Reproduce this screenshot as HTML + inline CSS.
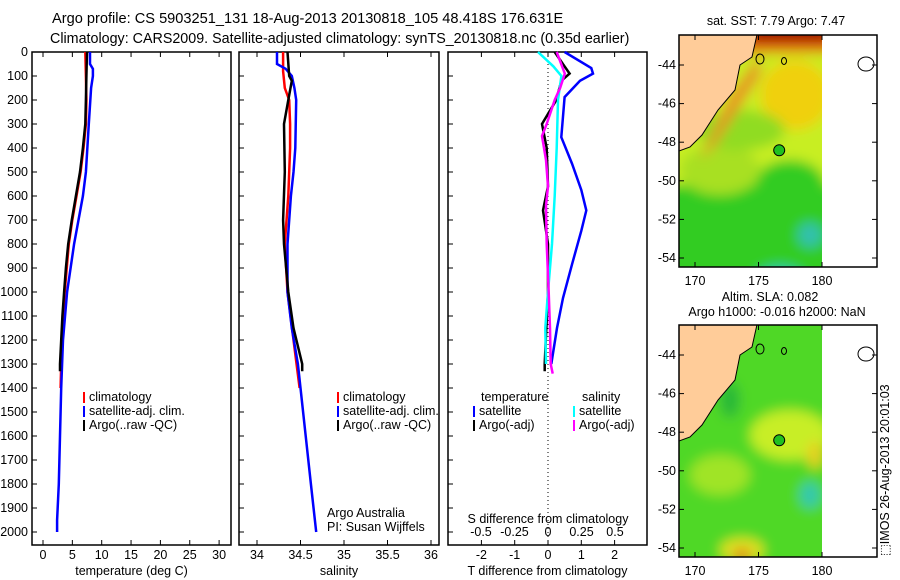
<!DOCTYPE html>
<html><head><meta charset="utf-8"><style>
body{margin:0;background:#fff;}
svg{display:block;font-family:"Liberation Sans",sans-serif;font-size:12.5px;}
</style></head><body>
<svg id="chart" width="900" height="580" viewBox="0 0 900 580">
<defs>
<filter id="blur" x="-20%" y="-20%" width="140%" height="140%"><feGaussianBlur stdDeviation="6"/></filter>
<clipPath id="c1"><rect x="679" y="35" width="143" height="232"/></clipPath>
<clipPath id="c2"><rect x="679" y="325" width="143" height="232"/></clipPath>
</defs>
<text x="52" y="23" font-size="14.6">Argo profile: CS 5903251_131 18-Aug-2013 20130818_105 48.418S 176.631E</text>
<text x="50" y="43" font-size="14.3">Climatology: CARS2009. Satellite-adjusted climatology: synTS_20130818.nc (0.35d earlier)</text>
<g id="plots"></g>
<g id="maps"></g>
<text transform="translate(889,556) rotate(-90)" font-size="12.5">⬚IMOS 26-Aug-2013 20:01:03</text>
</svg>
<script>
// ---- data ----
const tempDepthArgo=[0,100,200,300,400,500,600,700,800,900,1000,1100,1200,1300,1330];
const tempArgo=[7.5,7.4,7.3,7.2,6.8,6.3,5.6,4.9,4.3,3.9,3.6,3.3,3.1,2.9,2.9];
const tempDepthClim=[0,100,200,300,400,500,600,700,800,1000,1200,1400];
const tempClim=[7.2,7.3,7.4,7.3,6.9,6.4,5.7,5.0,4.4,3.7,3.2,3.0];
const tempDepthSat=[0,50,70,100,150,300,500,600,800,1000,1200,1400,1600,1800,1950,2000];
const tempSat=[8.0,8.0,8.5,8.5,8.2,7.8,7.3,6.8,5.3,4.1,3.4,3.1,2.9,2.7,2.4,2.4];
const salDepthArgo=[0,100,120,200,300,500,700,800,1000,1150,1300,1330];
const salArgo=[34.35,34.37,34.40,34.36,34.31,34.32,34.30,34.31,34.36,34.42,34.52,34.52];
const salDepthClim=[0,80,150,200,300,400,600,800,1000,1200,1400];
const salClim=[34.30,34.30,34.32,34.37,34.38,34.38,34.36,34.32,34.35,34.42,34.49];
const salDepthSat=[0,50,70,100,150,200,400,500,600,800,1000,1150,1300,1400,1600,1800,2000];
const salSat=[34.23,34.23,34.33,34.40,34.43,34.45,34.44,34.42,34.39,34.35,34.35,34.40,34.47,34.50,34.56,34.62,34.68];
const dDepthT=[0,67,90,120,188,355,465,575,660,745,885,1025,1150,1300];
const dTsat=[0.5,1.3,1.35,0.96,0.5,0.4,0.72,1.0,1.15,1.0,0.72,0.45,0.27,0.1];
const dDepthTA=[0,60,90,120,200,300,400,560,660,800,1000,1300,1330];
const dTargo=[0.2,0.5,0.65,0.4,0.25,-0.18,-0.04,0.0,-0.15,0.0,0.0,-0.1,-0.1];
const dDepthS=[0,60,100,200,400,600,800,1000,1150,1300];
const dSsat=[-0.075,0.04,0.1,0.075,0.065,0.05,0.03,0.0,-0.02,-0.015];
const dDepthSA=[0,90,150,200,300,350,450,560,640,800,1000,1150,1300,1340];
const dSargo=[0.065,0.125,0.09,0.05,-0.01,-0.045,-0.015,0.0,-0.015,-0.01,0.005,0.015,0.02,0.035];
const depthTicks=[0,100,200,300,400,500,600,700,800,900,1000,1100,1200,1300,1400,1500,1600,1700,1800,1900,2000];
const tempTicks=[0,5,10,15,20,25,30];
const salTicks=[34,34.5,35,35.5,36];
const dtTicks=[-2,-1,0,1,2];
const dsTicks=[-0.5,-0.25,0,0.25,0.5];
const lonTicks=[170,175,180];
const latTicks=[-44,-46,-48,-50,-52,-54];

const NS='http://www.w3.org/2000/svg';
function mk(p,tag,at,txt){const e=document.createElementNS(NS,tag);for(const k in at)e.setAttribute(k,at[k]);if(txt!==undefined)e.textContent=txt;p.appendChild(e);return e;}
const Y=d=>52+d*0.24;
const pTop=52,pBot=545;
const plots=document.getElementById('plots');
const panels=[
 {l:32,r:231,x:v=>43+v*5.87,ticks:tempTicks,title:'temperature (deg C)',name:'temperature-panel'},
 {l:239,r:439,x:v=>257+(v-34)*87,ticks:salTicks,title:'salinity',name:'salinity-panel'},
 {l:448,r:647,x:v=>548+v*33.3,ticks:dtTicks,title:'T difference from climatology',name:'difference-panel'}];
panels.forEach((p,i)=>{
 const g=mk(plots,'g',{});
 
 
 mk(g,'rect',{x:p.l,y:pTop,width:p.r-p.l,height:pBot-pTop,fill:'none',stroke:'#000','stroke-width':1.5});
 depthTicks.forEach(d=>{mk(g,'line',{x1:p.l,x2:p.l+5,y1:Y(d),y2:Y(d),stroke:'#000'});
  if(i==0){const t=mk(g,'text',{x:28,y:Y(d)+4,'text-anchor':'end'},String(d));}});
 p.ticks.forEach(v=>{const x=p.x(v);mk(g,'line',{x1:x,x2:x,y1:pTop,y2:pTop+5,stroke:'#000'});mk(g,'line',{x1:x,x2:x,y1:pBot,y2:pBot-5,stroke:'#000'});
  const t=mk(g,'text',{x:x,y:559,'text-anchor':'middle'},String(v));});
 const tt=mk(g,'text',{x:(p.l+p.r)/2,y:575,'text-anchor':'middle'},p.title);
 
});
function line(xf,ds,vs,col,name){const pts=ds.map((d,i)=>xf(vs[i]).toFixed(1)+','+Y(d).toFixed(1)).join(' ');
 const e=mk(plots,'polyline',{points:pts,fill:'none',stroke:col,'stroke-width':2.5});
 }
const P=panels;
line(P[0].x,tempDepthClim,tempClim,'#f00','temp-climatology-line');
line(P[0].x,tempDepthSat,tempSat,'#00f','temp-satellite-line');
line(P[0].x,tempDepthArgo,tempArgo,'#000','temp-argo-line');
line(P[1].x,salDepthClim,salClim,'#f00','sal-climatology-line');
line(P[1].x,salDepthSat,salSat,'#00f','sal-satellite-line');
line(P[1].x,salDepthArgo,salArgo,'#000','sal-argo-line');
const sx=v=>548+v*134;
mk(plots,'line',{x1:548,x2:548,y1:pTop,y2:pBot,stroke:'#000','stroke-dasharray':'1,3'});
line(P[2].x,dDepthT,dTsat,'#00f','dT-satellite-line');
line(P[2].x,dDepthTA,dTargo,'#000','dT-argo-line');
line(sx,dDepthS,dSsat,'#0ff','dS-satellite-line');
line(sx,dDepthSA,dSargo,'#f0f','dS-argo-line');
dsTicks.forEach(v=>{const t=mk(plots,'text',{x:sx(v),y:536,'text-anchor':'middle'},String(v));});
const st=mk(plots,'text',{x:548,y:523,'text-anchor':'middle'},'S difference from climatology');

function leg(x,y,col,txt){const g=mk(plots,'g',{});
 mk(g,'rect',{x:x,y:y-9,width:2,height:11,fill:col});mk(g,'text',{x:x+6,y:y},txt);}
[['#f00','climatology'],['#00f','satellite-adj. clim.'],['#000','Argo(..raw -QC)']].forEach((e,i)=>{leg(83,401+i*14,e[0],e[1]);leg(337,401+i*14,e[0],e[1]);});
mk(plots,'text',{x:481,y:401},'temperature');mk(plots,'text',{x:582,y:401},'salinity');
leg(473,415,'#00f','satellite');leg(473,429,'#000','Argo(-adj)');
leg(573,415,'#0ff','satellite');leg(573,429,'#f0f','Argo(-adj)');
mk(plots,'text',{x:327,y:517},'Argo Australia');mk(plots,'text',{x:327,y:531},'PI: Susan Wijffels');

// ---- maps ----
const maps=document.getElementById('maps');
const lonX=l=>695+(l-170)*12.7;
function drawMap(oy,clip,kind,name){
 const g=mk(maps,'g',{});
 const lat=v=>oy+30+(-44-v)*19.3;
 const f=mk(g,'g',{'clip-path':'url(#'+clip+')'});
 const b=mk(f,'g',{filter:'url(#blur)'});
 if(kind==1){
  mk(b,'rect',{x:660,y:oy-20,width:180,height:280,fill:'#c8ee20'});
  mk(b,'rect',{x:660,y:oy+150,width:180,height:120,fill:'#30cc20'});
  mk(b,'ellipse',{cx:790,cy:oy+150,rx:35,ry:25,fill:'#30cc20'});
  mk(b,'ellipse',{cx:720,cy:oy+135,rx:40,ry:25,fill:'#a8e020'});
  mk(b,'ellipse',{cx:795,cy:oy+60,rx:35,ry:35,fill:'#f0d010'});
  mk(b,'ellipse',{cx:740,cy:oy+95,rx:45,ry:20,fill:'#90dc20'});
  mk(b,'rect',{x:660,y:oy-20,width:180,height:38,fill:'#e87010'});
  mk(b,'rect',{x:750,y:oy-20,width:80,height:28,fill:'#a01000'});
  mk(b,'ellipse',{cx:810,cy:oy+200,rx:12,ry:12,fill:'#30c0b0'});
  mk(b,'ellipse',{cx:780,cy:oy+245,rx:25,ry:14,fill:'#30c8b0'});
  mk(b,'polygon',{points:'700,'+(oy+125)+' 730,'+(oy+60)+' 760,'+(oy+20)+' 760,'+(oy+40)+' 715,'+(oy+110),fill:'#e89020'});
 }else{
  mk(b,'rect',{x:660,y:oy-20,width:180,height:280,fill:'#50d828'});
  mk(b,'ellipse',{cx:790,cy:oy+110,rx:40,ry:25,fill:'#c8ee28'});
  mk(b,'ellipse',{cx:720,cy:oy+150,rx:30,ry:20,fill:'#a0e428'});
  mk(b,'ellipse',{cx:815,cy:oy+130,rx:8,ry:14,fill:'#e8d020'});
  mk(b,'ellipse',{cx:810,cy:oy+170,rx:10,ry:13,fill:'#30c8b0'});
  mk(b,'ellipse',{cx:742,cy:oy+225,rx:22,ry:12,fill:'#e0e020'});
  mk(b,'ellipse',{cx:742,cy:oy+230,rx:8,ry:6,fill:'#e07010'});
  mk(b,'ellipse',{cx:730,cy:oy+75,rx:10,ry:18,fill:'#28b838'});
 }
 mk(f,'polygon',{points:'679,'+(oy-5)+' 758,'+(oy-5)+' 752,'+(oy+22)+' 740,'+(oy+30)+' 735,'+(oy+55)+' 718,'+(oy+75)+' 702,'+(oy+100)+' 690,'+(oy+112)+' 679,'+(oy+116),fill:'#ffcc99',stroke:'#000','stroke-width':1});
 mk(g,'rect',{x:822,y:oy,width:55,height:232,fill:'#fff'});
 mk(g,'ellipse',{cx:866,cy:oy+29,rx:8,ry:7,fill:'none',stroke:'#000'});
 mk(g,'ellipse',{cx:760,cy:oy+24,rx:4,ry:5,fill:'none',stroke:'#000'});
 mk(g,'ellipse',{cx:784,cy:oy+26,rx:2.5,ry:3.5,fill:'none',stroke:'#000'});
 mk(g,'circle',{cx:lonX(176.63),cy:lat(-48.42),r:5.5,fill:'#20c020',stroke:'#000'});
 mk(g,'rect',{x:679,y:oy,width:198,height:232,fill:'none',stroke:'#000','stroke-width':1.5});
 latTicks.forEach(v=>{const y=lat(v);mk(g,'line',{x1:679,x2:684,y1:y,y2:y,stroke:'#000'});mk(g,'line',{x1:877,x2:872,y1:y,y2:y,stroke:'#000'});
  const t=mk(g,'text',{x:676,y:y+4,'text-anchor':'end'},String(v));});
 lonTicks.forEach(v=>{const x=lonX(v);mk(g,'line',{x1:x,x2:x,y1:oy,y2:oy+5,stroke:'#000'});mk(g,'line',{x1:x,x2:x,y1:oy+232,y2:oy+227,stroke:'#000'});
  const t=mk(g,'text',{x:x,y:oy+250,'text-anchor':'middle'},String(v));});
}
drawMap(35,'c1',1,'sst-map');
drawMap(325,'c2',2,'sla-map');
mk(maps,'text',{x:776,y:25,'text-anchor':'middle'},'sat. SST: 7.79 Argo: 7.47');
mk(maps,'text',{x:770,y:301,'text-anchor':'middle'},'Altim. SLA: 0.082');
mk(maps,'text',{x:777,y:316,'text-anchor':'middle'},'Argo h1000: -0.016 h2000: NaN');
</script>
</body></html>
